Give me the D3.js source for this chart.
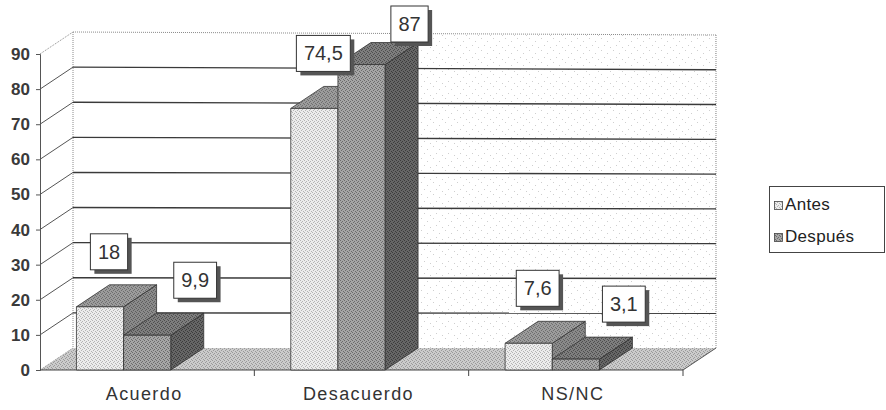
<!DOCTYPE html>
<html>
<head>
<meta charset="utf-8">
<script src="https://cdn.jsdelivr.net/npm/d3@7/dist/d3.min.js"></script>
<style>
  html, body { margin: 0; padding: 0; background: #fff; }
  svg { display: block; }
</style>
</head>
<body>
<div id="chart"></div>
<script>
// Survey answers before / after, in percent
const categories = ["Acuerdo", "Desacuerdo", "NS/NC"];
const seriesNames = ["Antes", "Después"];
const antes = [18, 74.5, 7.6];
const despues = [9.9, 87, 3.1];
const yTicks = [0, 10, 20, 30, 40, 50, 60, 70, 80, 90];

const W = 886, H = 410;
const svg = d3.select("#chart").append("svg").attr("width", W).attr("height", H);

// 3D look: offset of the back plane from the front plane
const DX = 33, DY = -22;

const x0 = d3.scaleBand().domain(categories).range([40, 683]);
const bw = x0.bandwidth();
const x1 = d3.scaleBand().domain(seriesNames).range([bw * 0.17, bw * 0.61]);
const y = d3.scaleLinear().domain([0, 90]).range([370, 54]);
// back wall, slight perspective on its right end
const yBackL = v => y(v) + DY;
const yBackR = d3.scaleLinear().domain([0, 90]).range([348, 35]);

const values = { "Antes": antes, "Después": despues };
const fmt = d3.formatLocale({ decimal: ",", thousands: ".", grouping: [3], currency: ["", ""] }).format("~g");

// ---- dither-like fill patterns ----
const defs = svg.append("defs");
function dither(id, base, dot, dots, size = 4) {
  const p = defs.append("pattern").attr("id", id).attr("patternUnits", "userSpaceOnUse")
    .attr("width", size).attr("height", size);
  p.append("rect").attr("width", size).attr("height", size).attr("fill", base);
  dots.forEach(([a, b]) => p.append("rect").attr("x", a).attr("y", b).attr("width", 1).attr("height", 1).attr("fill", dot));
}
const dotsA = [[0, 0], [2, 1], [1, 2], [3, 3]];
dither("antesFront", "#ececec", "#b4b4b4", dotsA);
dither("antesTop", "#9c9c9c", "#6e6e6e", dotsA);
dither("antesSide", "#8a8a8a", "#5e5e5e", dotsA);
dither("despFront", "#a6a6a6", "#6c6c6c", dotsA);
dither("despTop", "#7e7e7e", "#4e4e4e", dotsA);
dither("despSide", "#666", "#3c3c3c", dotsA);
dither("floor", "#cbcbcb", "#999", dotsA);
dither("wall", "#ffffff", "#cfcfcf", [[1, 2], [7, 5], [4, 9], [10, 11]], 12);

const fills = {
  "Antes": { front: "url(#antesFront)", top: "url(#antesTop)", side: "url(#antesSide)" },
  "Después": { front: "url(#despFront)", top: "url(#despTop)", side: "url(#despSide)" }
};

const xL = x0.range()[0], xR = x0.range()[1];
const backL = xL + DX, backR = xR + DX;

// ---- back wall ----
svg.append("polygon")
  .attr("points", [[backL, yBackL(90)], [backR, yBackR(90)], [backR, yBackR(0)], [backL, yBackL(0)]].join(" "))
  .attr("fill", "#fff");
// sparse stipple on the right part of the wall
svg.append("polygon")
  .attr("points", [[420, yBackL(90) + 2], [backR, yBackR(90)], [backR, yBackR(0)], [420, yBackL(0)]].join(" "))
  .attr("fill", "url(#wall)");

// floor
svg.append("polygon")
  .attr("points", [[xL, y(0)], [xR, y(0)], [backR, yBackR(0)], [backL, yBackL(0)]].join(" "))
  .attr("fill", "url(#floor)");

// wall outline (dotted)
const dotted = { stroke: "#8a8a8a", "stroke-width": 1, "stroke-dasharray": "1,1" };
function line(p, q, style) {
  const l = svg.append("line").attr("x1", p[0]).attr("y1", p[1]).attr("x2", q[0]).attr("y2", q[1]);
  Object.entries(style).forEach(([k, v]) => l.attr(k, v));
  return l;
}
line([backL, yBackL(90)], [backR, yBackR(90)], dotted);
line([backR, yBackR(90)], [backR, yBackR(0)], dotted);
line([backL, yBackL(90)], [backL, yBackL(0)], dotted);
line([xL, y(90)], [backL, yBackL(90)], dotted);

// gridlines on the side and back walls
const grid = { stroke: "#3a3a3a", "stroke-width": 1.4 };
yTicks.filter(t => t > 0 && t < 90).forEach(t => {
  line([xL, y(t)], [backL, yBackL(t)], { stroke: "#555", "stroke-width": 1 });
  line([backL, yBackL(t)], [backR, yBackR(t)], grid);
});

// floor edges
line([xR, y(0)], [backR, yBackR(0)], { stroke: "#555", "stroke-width": 1 });
line([xL, y(0)], [backL, yBackL(0)], { stroke: "#999", "stroke-width": 1, "stroke-dasharray": "1,1" });

// ---- y axis ----
const yAxis = svg.append("g").attr("transform", `translate(${xL},0)`)
  .call(d3.axisLeft(y).tickValues(yTicks).tickSize(4).tickPadding(6));
yAxis.select(".domain").attr("stroke", "#555");
yAxis.selectAll(".tick line").attr("stroke", "#555");
yAxis.selectAll(".tick text")
  .attr("font-family", "'Liberation Sans', Arial, sans-serif")
  .attr("font-size", 17).attr("font-weight", "bold").attr("fill", "#3a3a3a");

// ---- x axis ----
line([xL, y(0)], [xR, y(0)], { stroke: "#444", "stroke-width": 1.2 });
categories.forEach(c => {
  const xb = x0(c) + bw;
  line([xb, y(0)], [xb, y(0) + 6], { stroke: "#444", "stroke-width": 1 });
});
svg.append("g").selectAll("text").data(categories).join("text")
  .attr("x", c => x0(c) + bw / 2 - 3)
  .attr("y", 400)
  .attr("text-anchor", "middle")
  .attr("font-family", "'Liberation Sans', Arial, sans-serif")
  .attr("font-size", 18)
  .attr("letter-spacing", 1.4)
  .attr("fill", "#333")
  .text(c => c);

// ---- 3D bars ----
const barG = svg.append("g");
const base = y(0);
categories.forEach((c, i) => {
  seriesNames.forEach(s => {
    const v = values[s][i];
    const xl = x0(c) + x1(s), w = x1.bandwidth(), yt = y(v);
    const f = fills[s];
    const g = barG.append("g").attr("stroke", "#333").attr("stroke-width", 0.8).attr("stroke-linejoin", "round");
    g.append("polygon")
      .attr("points", [[xl + w, yt], [xl + w + DX, yt + DY], [xl + w + DX, base + DY], [xl + w, base]].join(" "))
      .attr("fill", f.side);
    g.append("polygon")
      .attr("points", [[xl, yt], [xl + w, yt], [xl + w + DX, yt + DY], [xl + DX, yt + DY]].join(" "))
      .attr("fill", f.top);
    g.append("rect")
      .attr("x", xl).attr("y", yt).attr("width", w).attr("height", base - yt)
      .attr("fill", f.front);
  });
});

// ---- value labels ----
const labelG = svg.append("g");
categories.forEach((c, i) => {
  seriesNames.forEach((s, si) => {
    const v = values[s][i];
    const cxFront = x0(c) + x1(s) + x1.bandwidth() / 2;
    const cx = cxFront + (si === 0 ? 9 : 48);
    const cy = Math.max(y(v) - 55, 24);
    const g = labelG.append("g");
    const t = g.append("text")
      .attr("x", cx).attr("y", cy + 7)
      .attr("text-anchor", "middle")
      .attr("font-family", "'Liberation Sans', Arial, sans-serif")
      .attr("font-size", 20)
      .attr("fill", "#333")
      .text(fmt(v));
    const tw = t.node().getComputedTextLength();
    const bwid = tw + 15, bh = 36;
    g.insert("rect", "text")
      .attr("x", cx - bwid / 2 + 4).attr("y", cy - bh / 2 + 4)
      .attr("width", bwid).attr("height", bh)
      .attr("fill", "#555");
    g.insert("rect", "text")
      .attr("x", cx - bwid / 2).attr("y", cy - bh / 2)
      .attr("width", bwid).attr("height", bh)
      .attr("fill", "#fff").attr("stroke", "#333").attr("stroke-width", 1);
  });
});

// ---- legend ----
const lg = svg.append("g");
lg.append("rect").attr("x", 769.5).attr("y", 186.5).attr("width", 115).attr("height", 66)
  .attr("fill", "#fff").attr("stroke", "#444").attr("stroke-width", 1);
seriesNames.forEach((s, i) => {
  const yy = 202 + i * 32;
  lg.append("rect").attr("x", 774.5).attr("y", yy - 0.5).attr("width", 8).attr("height", 8)
    .attr("fill", fills[s].front).attr("stroke", "#444").attr("stroke-width", 0.8);
  lg.append("text").attr("x", 785).attr("y", yy + 8)
    .attr("font-family", "'Liberation Sans', Arial, sans-serif")
    .attr("font-size", 17).attr("letter-spacing", 0.3).attr("fill", "#222")
    .text(s);
});
</script>
</body>
</html>
